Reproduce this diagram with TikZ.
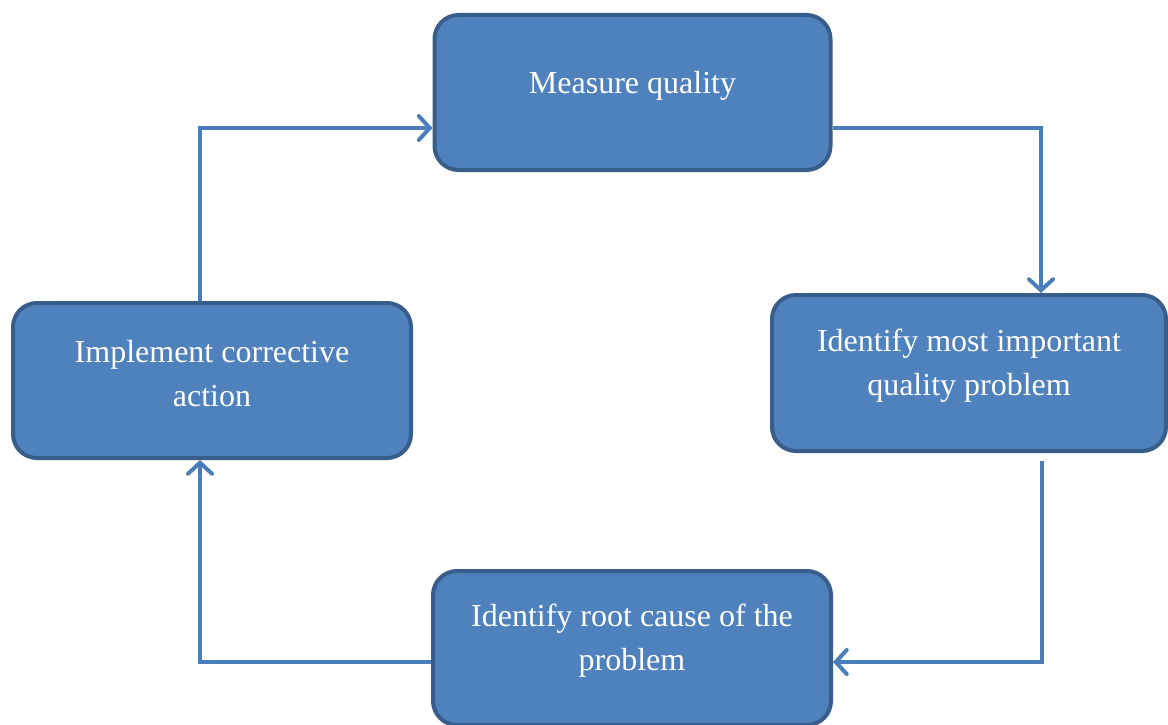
\documentclass[tikz,border=0pt]{standalone}
\usepackage{fontspec}
\setmainfont{Liberation Serif}
\usetikzlibrary{arrows.meta}
\definecolor{boxfill}{HTML}{4F81BD}
\definecolor{boxdraw}{HTML}{385D8A}
\definecolor{conncol}{HTML}{4A7EBB}
\tikzset{
  procbox/.style={draw=boxdraw, fill=boxfill, line width=4pt, rounded corners=24pt, inner sep=0pt},
  boxtext/.style={text=white, align=center, font=\fontsize{32}{44}\selectfont, inner sep=0pt},
  conn/.style={draw=conncol, line width=4pt, -{Straight Barb[length=11pt,width=24pt,line width=4pt,line cap=round]}}
}
\begin{document}
\begin{tikzpicture}[x=1pt,y=-1pt]
\useasboundingbox (0,0) rectangle (1168,725);
% boxes
\node[procbox, minimum width=396pt, minimum height=155pt] (mq) at (632.5,92.5) {};
\node[procbox, minimum width=394pt, minimum height=156pt] (ib) at (969,373) {};
\node[procbox, minimum width=398pt, minimum height=154pt] (rc) at (632,648) {};
\node[procbox, minimum width=398pt, minimum height=155pt] (ia) at (212,380.5) {};
% texts
\node[boxtext] (mqt) at ([yshift=7pt]mq.center) {Measure quality};
\node[boxtext] (ibt) at ([yshift=7pt]ib.center) {Identify most important\\quality problem};
\node[boxtext] (rct) at ([yshift=7pt]rc.center) {Identify root cause of the\\problem};
\node[boxtext] (iat) at ([yshift=7pt]ia.center) {Implement corrective\\action};
% corner coordinates
\coordinate (c1) at (1041,128);
\coordinate (c2) at (1042,662);
\coordinate (c3) at (200,662);
\coordinate (c4) at (200,128);
\coordinate (s2) at (1042,461);
% connectors
\draw[conn] (mq.east |- c1) -- (c1) -- (c1 |- ib.north);
\draw[conn] (s2) -- (c2) -- (rc.east |- c2);
\draw[conn] (rc.west |- c3) -- (c3) -- (c3 |- ia.south);
\draw[conn] (ia.north -| c4) -- (c4) -- (mq.west |- c4);
\end{tikzpicture}
\end{document}
